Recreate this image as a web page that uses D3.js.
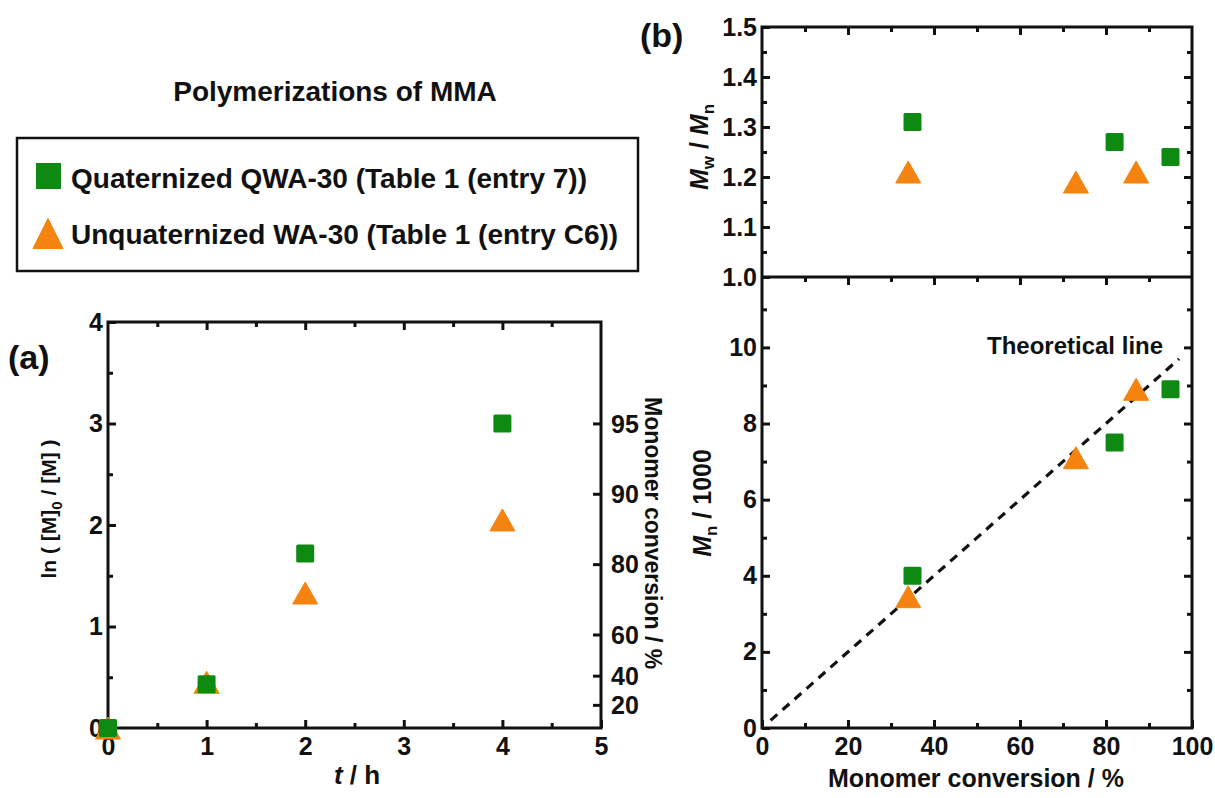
<!DOCTYPE html>
<html>
<head>
<meta charset="utf-8">
<script src="https://cdn.jsdelivr.net/npm/d3@7"></script>
<style>
  html, body { margin: 0; padding: 0; background: #fff; }
  text { font-family: "Liberation Sans", Arial, sans-serif; font-weight: bold; fill: #111; }
</style>
</head>
<body>
<svg id="chart" width="1215" height="798"></svg>
<script>
// ---------- DATA ----------
// Panel (a): kinetics
const timeQ = [0, 1, 2, 4];
const lnQ = [0, 0.43, 1.72, 3.0];
const timeU = [0, 1, 2, 4];
const lnU = [0, 0.45, 1.33, 2.05];
const convTicks = [20, 40, 60, 80, 90, 95];

// Panel (b): conversion vs Mw/Mn and Mn
const convQ = [35, 82, 95];
const pdiQ = [1.31, 1.27, 1.24];
const mnQ = [4.0, 7.5, 8.9];
const convU = [34, 73, 87];
const pdiU = [1.21, 1.19, 1.21];
const mnU = [3.45, 7.1, 8.9];
const theoConv = [2, 97];
const theoMn = [0.2, 9.7];

const seriesNames = ["Quaternized QWA-30 (Table 1 (entry 7))", "Unquaternized WA-30 (Table 1 (entry C6))"];
const GREEN = "#0e8a12";
const ORANGE = "#f5830f";

const svg = d3.select("#chart");

// ---------- SCALES ----------
const xa = d3.scaleLinear().domain([0, 5]).range([108, 601]);
const ya = d3.scaleLinear().domain([0, 4]).range([728, 322]);
const xb = d3.scaleLinear().domain([0, 100]).range([762, 1192]);
const ybTop = d3.scaleLinear().domain([1.0, 1.5]).range([277, 27]);
const ybBot = d3.scaleLinear().domain([0, 11.85]).range([728, 277]);

const FS = 25;
function styleAxis(g) {
  g.select(".domain").remove();
  g.selectAll("line").attr("stroke", "#111").attr("stroke-width", 3);
  g.selectAll("text").attr("font-size", FS).attr("font-family", "Liberation Sans, Arial, sans-serif").attr("font-weight", "bold").attr("fill", "#111");
}
function addAxis(axis, tx, ty) {
  const g = svg.append("g").attr("transform", `translate(${tx},${ty})`).call(axis);
  styleAxis(g);
  return g;
}
const fmt1 = d3.format(".1f");
const MAJ = 8, MIN = 5;

// ---------- PANEL (a) ----------
svg.append("rect").attr("x", xa(0)).attr("y", ya(4)).attr("width", xa(5) - xa(0)).attr("height", ya(0) - ya(4))
  .attr("fill", "none").attr("stroke", "#111").attr("stroke-width", 3);
addAxis(d3.axisBottom(xa).tickValues([0,1,2,3,4,5]).tickSize(-MAJ).tickPadding(9).tickFormat(d3.format("d")), 0, ya(0));
addAxis(d3.axisBottom(xa).tickValues([0.5,1.5,2.5,3.5,4.5]).tickSize(-MIN).tickFormat(""), 0, ya(0));
addAxis(d3.axisTop(xa).tickValues([1,2,3,4]).tickSize(-MAJ).tickFormat(""), 0, ya(4));
addAxis(d3.axisTop(xa).tickValues([0.5,1.5,2.5,3.5,4.5]).tickSize(-MIN).tickFormat(""), 0, ya(4));
addAxis(d3.axisLeft(ya).tickValues([0,1,2,3,4]).tickSize(-MAJ).tickPadding(5).tickFormat(d3.format("d")), xa(0), 0);
addAxis(d3.axisLeft(ya).tickValues([0.5,1.5,2.5,3.5]).tickSize(-MIN).tickFormat(""), xa(0), 0);
// right axis: monomer conversion, position = ln(1/(1-c))
const convToLn = c => -Math.log(1 - c / 100);
const gR = svg.append("g").attr("transform", `translate(${xa(5)},0)`);
convTicks.forEach(c => {
  const y = ya(convToLn(c));
  gR.append("line").attr("x1", -MAJ).attr("x2", 0).attr("y1", y).attr("y2", y).attr("stroke", "#111").attr("stroke-width", 3);
  gR.append("text").attr("x", 10).attr("y", y).attr("dy", "0.35em").attr("font-size", FS).text(c);
});

// markers
function triPath(cx, cy, w, h) {
  return `M${cx - w/2},${cy + h/2}L${cx + w/2},${cy + h/2}L${cx},${cy - h/2}Z`;
}
const TW = 25, TH = 22, SQ = 18;
function drawTri(g, xs, ys, xS, yS) {
  g.selectAll(null).data(xs.map((x, i) => [x, ys[i]])).enter().append("path")
    .attr("d", d => triPath(xS(d[0]), yS(d[1]), TW, TH))
    .attr("fill", ORANGE).attr("stroke", ORANGE).attr("stroke-width", 1).attr("stroke-linejoin", "round");
}
function drawSq(g, xs, ys, xS, yS) {
  g.selectAll(null).data(xs.map((x, i) => [x, ys[i]])).enter().append("rect")
    .attr("x", d => xS(d[0]) - SQ/2).attr("y", d => yS(d[1]) - SQ/2)
    .attr("width", SQ).attr("height", SQ).attr("rx", 1.5)
    .attr("fill", GREEN);
}
const ga = svg.append("g");
drawTri(ga, timeU, lnU, xa, ya);
drawSq(ga, timeQ, lnQ, xa, ya);

// labels (a)
svg.append("text").attr("x", 8).attr("y", 369).attr("font-size", 34).text("(a)");
const ylA = svg.append("text").attr("transform", "translate(56,509) rotate(-90)").attr("text-anchor", "middle").attr("font-size", 21);
ylA.append("tspan").text("ln ( [M]");
ylA.append("tspan").attr("font-size", 15).attr("dy", 6).text("0");
ylA.append("tspan").attr("dy", -6).text(" / [M] )");
svg.append("text").attr("transform", "translate(645,397) rotate(90)").attr("text-anchor", "start").attr("font-size", 23).text("Monomer conversion / %");
const xlA = svg.append("text").attr("x", 357).attr("y", 784).attr("text-anchor", "middle").attr("font-size", 26);
xlA.append("tspan").attr("font-style", "italic").text("t");
xlA.append("tspan").text(" / h");

// title & legend
svg.append("text").attr("x", 335).attr("y", 101).attr("text-anchor", "middle").attr("font-size", 28).text("Polymerizations of MMA");
svg.append("rect").attr("x", 17).attr("y", 138).attr("width", 621).attr("height", 133)
  .attr("fill", "none").attr("stroke", "#111").attr("stroke-width", 2.5);
svg.append("rect").attr("x", 36).attr("y", 163).attr("width", 25).attr("height", 26).attr("fill", GREEN);
svg.append("path").attr("d", triPath(48, 233.5, 30, 30)).attr("fill", ORANGE).attr("stroke", ORANGE).attr("stroke-linejoin", "round");
svg.append("text").attr("x", 71).attr("y", 188).attr("font-size", 28).text(seriesNames[0]);
svg.append("text").attr("x", 71).attr("y", 244).attr("font-size", 28).text(seriesNames[1]);

// ---------- PANEL (b) ----------
svg.append("rect").attr("x", xb(0)).attr("y", ybTop(1.5)).attr("width", xb(100) - xb(0)).attr("height", ybBot(0) - ybTop(1.5))
  .attr("fill", "none").attr("stroke", "#111").attr("stroke-width", 3);
svg.append("line").attr("x1", xb(0)).attr("x2", xb(100)).attr("y1", ybTop(1.0)).attr("y2", ybTop(1.0))
  .attr("stroke", "#111").attr("stroke-width", 3);

const xMaj = [0, 20, 40, 60, 80, 100], xMin = [10, 30, 50, 70, 90];
addAxis(d3.axisBottom(xb).tickValues(xMaj).tickSize(-MAJ).tickPadding(9).tickFormat(d3.format("d")), 0, ybBot(0));
addAxis(d3.axisBottom(xb).tickValues(xMin).tickSize(-MIN).tickFormat(""), 0, ybBot(0));
addAxis(d3.axisTop(xb).tickValues(xMaj.slice(1, 5)).tickSize(-MAJ).tickFormat(""), 0, ybTop(1.0));
addAxis(d3.axisTop(xb).tickValues(xMin).tickSize(-MIN).tickFormat(""), 0, ybTop(1.0));
addAxis(d3.axisTop(xb).tickValues(xMaj.slice(1, 5)).tickSize(-MAJ).tickFormat(""), 0, ybTop(1.5));
addAxis(d3.axisTop(xb).tickValues(xMin).tickSize(-MIN).tickFormat(""), 0, ybTop(1.5));
addAxis(d3.axisLeft(ybTop).tickValues([1.0,1.1,1.2,1.3,1.4,1.5]).tickSize(-MAJ).tickPadding(5).tickFormat(fmt1), xb(0), 0);
addAxis(d3.axisLeft(ybTop).tickValues([1.05,1.15,1.25,1.35,1.45]).tickSize(-MIN).tickFormat(""), xb(0), 0);
addAxis(d3.axisRight(ybTop).tickValues([1.1,1.2,1.3,1.4]).tickSize(-MAJ).tickFormat(""), xb(100), 0);
addAxis(d3.axisRight(ybTop).tickValues([1.05,1.15,1.25,1.35,1.45]).tickSize(-MIN).tickFormat(""), xb(100), 0);
addAxis(d3.axisLeft(ybBot).tickValues([0,2,4,6,8,10]).tickSize(-MAJ).tickPadding(5).tickFormat(d3.format("d")), xb(0), 0);
addAxis(d3.axisLeft(ybBot).tickValues([1,3,5,7,9,11]).tickSize(-MIN).tickFormat(""), xb(0), 0);
addAxis(d3.axisRight(ybBot).tickValues([2,4,6,8,10]).tickSize(-MAJ).tickFormat(""), xb(100), 0);
addAxis(d3.axisRight(ybBot).tickValues([1,3,5,7,9,11]).tickSize(-MIN).tickFormat(""), xb(100), 0);

// theoretical line
const line = d3.line().x(d => xb(d[0])).y(d => ybBot(d[1]));
svg.append("path").datum(theoConv.map((c, i) => [c, theoMn[i]])).attr("d", line)
  .attr("fill", "none").attr("stroke", "#111").attr("stroke-width", 3.2).attr("stroke-dasharray", "9,7");
svg.append("text").attr("x", 987).attr("y", 354).attr("text-anchor", "start").attr("font-size", 24).text("Theoretical line");

const gb = svg.append("g");
drawTri(gb, convU, pdiU, xb, ybTop);
drawSq(gb, convQ, pdiQ, xb, ybTop);
drawTri(gb, convU, mnU, xb, ybBot);
drawSq(gb, convQ, mnQ, xb, ybBot);

// labels (b)
svg.append("text").attr("x", 640).attr("y", 47).attr("font-size", 34).text("(b)");
const ylB1 = svg.append("text").attr("transform", "translate(708,147) rotate(-90)").attr("text-anchor", "middle").attr("font-size", 25);
ylB1.append("tspan").attr("font-style", "italic").text("M");
ylB1.append("tspan").attr("font-size", 17).attr("dy", 6).text("w");
ylB1.append("tspan").attr("dy", -6).text(" / ");
ylB1.append("tspan").attr("font-style", "italic").text("M");
ylB1.append("tspan").attr("font-size", 17).attr("dy", 6).text("n");
const ylB2 = svg.append("text").attr("transform", "translate(711,503) rotate(-90)").attr("text-anchor", "middle").attr("font-size", 25);
ylB2.append("tspan").attr("font-style", "italic").text("M");
ylB2.append("tspan").attr("font-size", 17).attr("dy", 6).text("n");
ylB2.append("tspan").attr("dy", -6).text("  / 1000");
svg.append("text").attr("x", 976).attr("y", 787).attr("text-anchor", "middle").attr("font-size", 25).text("Monomer conversion / %");
</script>
</body>
</html>
